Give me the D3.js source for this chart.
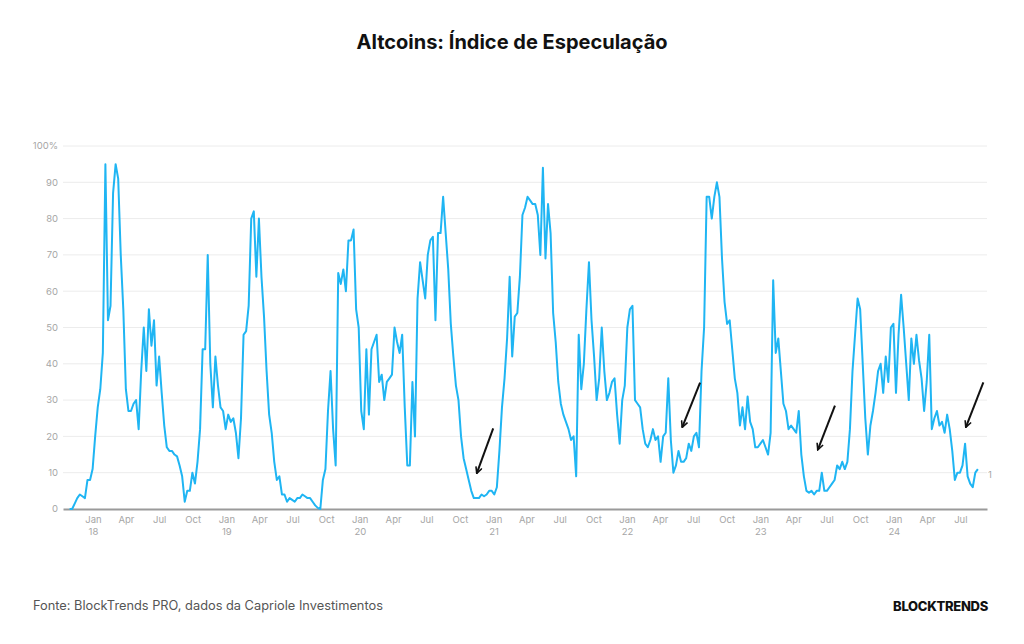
<!DOCTYPE html>
<html>
<head>
<meta charset="utf-8">
<title>Altcoins: Índice de Especulação</title>
<script src="https://cdn.jsdelivr.net/npm/d3@7"></script>
<style>
  html, body { margin: 0; padding: 0; background: #fff; }
  svg { display: block; }
</style>
</head>
<body>
<div id="chart"></div>
<script>
;(function (window, document, undefined) {

  'use strict';

  var title = 'Altcoins: Índice de Especulação';
  var source = 'Fonte: BlockTrends PRO, dados da Capriole Investimentos';
  var brand = 'BLOCKTRENDS';

  // weekly readings of the index (%), starting at firstWeek
  var firstWeek = '2017-10-29';
  var stepDays = 7;
  var values = [
    0, 0, 1.5, 3, 4, 3.5, 3, 8, 8, 11, 20, 28, 33, 43,
    95, 52, 56, 87, 95, 91, 70, 55, 33, 27, 27, 29, 30, 22,
    38, 50, 38, 55, 45, 52, 34, 42, 32, 23, 17, 16, 16, 15,
    14.5, 12, 9, 2, 5, 5, 10, 7, 13, 22, 44, 44, 70, 40,
    28, 42, 34, 28, 27, 22, 26, 24, 25, 21, 14, 25, 48, 49,
    56, 80, 82, 64, 80, 64, 53, 38, 26, 21, 13, 8, 9, 4,
    4, 2, 3, 2.5, 2, 3, 3, 4, 3.5, 3, 3, 2, 1, 0.3,
    0, 8, 11, 27, 38, 22, 12, 65, 62, 66, 60, 74, 74, 77,
    55, 50, 27, 22, 44, 26, 44, 46, 48, 35, 37, 30, 35, 36,
    37, 50, 46, 43, 48, 28, 12, 12, 35, 20, 58, 68, 63, 58,
    70, 74, 75, 52, 76, 76, 86, 76, 66, 51, 42, 34, 30, 20,
    14, 11, 8, 5, 3, 3, 3, 4, 3.5, 4, 5, 5, 4, 6,
    16, 28, 36, 47, 64, 42, 53, 54, 64, 81, 83, 86, 85, 84,
    84, 81, 70, 94, 69, 84, 76, 54, 46, 35, 29, 26, 24, 22,
    19, 20, 9, 48, 33, 40, 55, 68, 52, 42, 30, 36, 50, 38,
    30, 32, 35, 36, 26, 18, 30, 34, 50, 55, 56, 30, 29, 28,
    22, 18, 17, 19, 22, 19, 20, 13, 20, 21, 36, 19, 10, 12,
    16, 13, 13, 14, 18, 16, 20, 21, 17, 38, 50, 86, 86, 80,
    86, 90, 86, 69, 57, 51, 52, 44, 36, 32, 23, 28, 22, 31,
    24, 22, 17, 17, 18, 19, 17, 15, 21, 63, 43, 47, 38, 29,
    27, 22, 23, 22, 21, 27, 15, 9, 5, 4.5, 5, 4, 5, 5,
    10, 5, 5, 6, 7, 8, 12, 11, 13, 11, 13, 22, 38, 48,
    58, 55, 40, 25, 15, 23, 27, 32, 38, 40, 32, 42, 35, 50,
    51, 32, 48, 59, 50, 40, 30, 47, 40, 48, 41, 36, 27, 35,
    48, 22, 25, 27, 23, 24, 21, 26, 22, 16, 8, 10, 10, 12,
    18, 9, 7, 6, 10, 11
  ];

  var xDomain = ['2017-10-11', '2024-09-12'];
  var yTicks = [0, 10, 20, 30, 40, 50, 60, 70, 80, 90, 100];
  var monthNames = { 0: 'Jan', 3: 'Apr', 6: 'Jul', 9: 'Oct' };

  // hand-drawn arrows on the chart: tail -> head, as [date, value]
  var arrows = [
    { from: ['2020-12-31', 22.2], to: ['2020-11-16', 9.8] },
    { from: ['2022-07-20', 34.8], to: ['2022-06-01', 22.5] },
    { from: ['2023-07-24', 28.5], to: ['2023-06-07', 16.3] },
    { from: ['2024-09-02', 34.9], to: ['2024-07-16', 22.5] }
  ];

  var endLabel = { text: '1', value: 9.4 };

  var width = 1024, height = 644;
  var margin = { top: 146, right: 37, bottom: 135, left: 63 };
  var lineColor = '#1fb5f3';
  var font = 'Inter, Roboto, "Noto Sans", sans-serif';

  var parse = d3.utcParse('%Y-%m-%d');
  var start = parse(firstWeek);
  var data = values.map(function (v, i) {
    return { date: d3.utcDay.offset(start, i * stepDays), value: v };
  });

  var svg = d3.select('#chart').append('svg')
    .attr('width', width)
    .attr('height', height)
    .style('font-family', font);

  svg.append('rect')
    .attr('width', width)
    .attr('height', height)
    .attr('fill', '#fff');

  var x = d3.scaleUtc()
    .domain(xDomain.map(parse))
    .range([margin.left, width - margin.right]);

  var y = d3.scaleLinear()
    .domain([0, 100])
    .range([height - margin.bottom, margin.top]);

  // title
  svg.append('text')
    .attr('x', width / 2)
    .attr('y', 49)
    .attr('text-anchor', 'middle')
    .style('font-size', '20px')
    .style('font-weight', 700)
    .style('fill', '#111')
    .text(title);

  // grid + y labels
  var grid = svg.append('g');
  grid.selectAll('line')
    .data(yTicks.filter(function (d) { return d > 0; }))
    .enter().append('line')
    .attr('x1', x.range()[0])
    .attr('x2', x.range()[1])
    .attr('y1', function (d) { return y(d); })
    .attr('y2', function (d) { return y(d); })
    .attr('stroke', '#ececec')
    .attr('stroke-width', 1);

  grid.selectAll('text')
    .data(yTicks)
    .enter().append('text')
    .attr('x', margin.left - 5)
    .attr('y', function (d) { return y(d); })
    .attr('dy', '0.35em')
    .attr('text-anchor', 'end')
    .style('font-size', '9.5px')
    .style('fill', '#a6a6a6')
    .text(function (d) { return d === 100 ? d + '%' : d; });

  // x axis
  var tickDates = d3.utcMonth.every(3).range(parse('2018-01-01'), parse('2024-08-01'));
  var xAxis = svg.append('g')
    .attr('transform', 'translate(0,' + y(0) + ')')
    .call(d3.axisBottom(x)
      .tickValues(tickDates)
      .tickSize(0)
      .tickSizeOuter(0)
      .tickPadding(7)
      .tickFormat(function (d) { return monthNames[d.getUTCMonth()]; }));

  xAxis.select('.domain')
    .attr('stroke', '#9a9a9a')
    .attr('stroke-width', 2);

  xAxis.selectAll('.tick text')
    .style('font-family', font)
    .style('font-size', '9.5px')
    .style('fill', '#a6a6a6')
    .each(function (d) {
      if (d.getUTCMonth() === 0) {
        d3.select(this).append('tspan')
          .attr('x', 0)
          .attr('dy', '1.25em')
          .text(d3.utcFormat('%y')(d));
      }
    });

  // series
  var line = d3.line()
    .x(function (d) { return x(d.date); })
    .y(function (d) { return y(d.value); });

  svg.append('path')
    .datum(data)
    .attr('fill', 'none')
    .attr('stroke', lineColor)
    .attr('stroke-width', 2)
    .attr('stroke-linejoin', 'round')
    .attr('d', line);

  svg.append('text')
    .attr('x', x.range()[1] + 1)
    .attr('y', y(endLabel.value))
    .attr('dy', '0.35em')
    .style('font-size', '9.5px')
    .style('fill', '#a6a6a6')
    .text(endLabel.text);

  // arrows
  svg.append('defs').append('marker')
    .attr('id', 'head')
    .attr('viewBox', '0 0 10 10')
    .attr('refX', 9)
    .attr('refY', 5)
    .attr('markerWidth', 4)
    .attr('markerHeight', 4)
    .attr('orient', 'auto')
    .append('path')
    .attr('d', 'M1,1 L9,5 L1,9')
    .attr('fill', 'none')
    .attr('stroke', '#111')
    .attr('stroke-width', 2);

  svg.append('g').selectAll('line')
    .data(arrows)
    .enter().append('line')
    .attr('x1', function (d) { return x(parse(d.from[0])); })
    .attr('y1', function (d) { return y(d.from[1]); })
    .attr('x2', function (d) { return x(parse(d.to[0])); })
    .attr('y2', function (d) { return y(d.to[1]); })
    .attr('stroke', '#111')
    .attr('stroke-width', 2)
    .attr('marker-end', 'url(#head)');

  // footer
  svg.append('text')
    .attr('x', 33)
    .attr('y', 610)
    .style('font-size', '12.8px')
    .style('fill', '#555')
    .text(source);

  svg.append('text')
    .attr('x', 988)
    .attr('y', 611)
    .attr('text-anchor', 'end')
    .style('font-size', '13px')
    .style('font-weight', 800)
    .style('letter-spacing', '-0.3px')
    .style('fill', '#111')
    .text(brand);

})(window, document);
</script>
</body>
</html>
